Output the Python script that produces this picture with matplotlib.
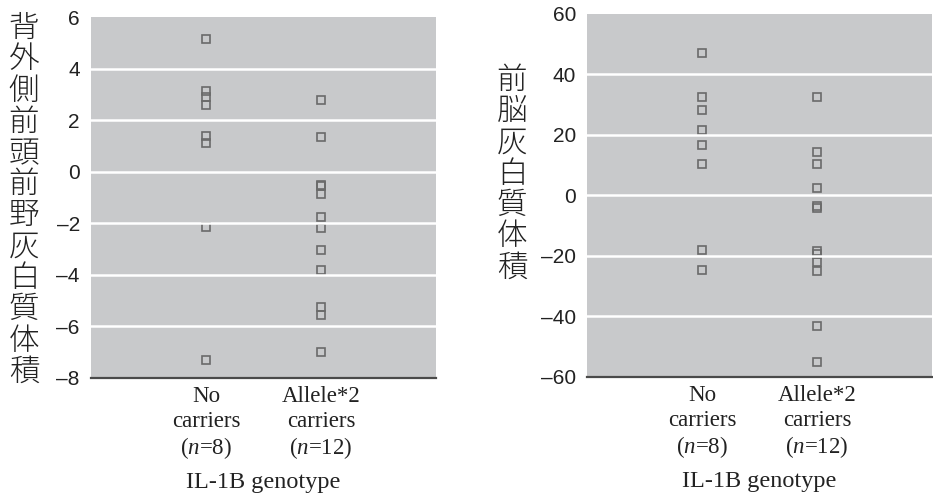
import matplotlib
matplotlib.use("Agg")
import matplotlib.pyplot as plt

# values
groups = ["No\ncarriers\n($n$=8)", "Allele*2\ncarriers\n($n$=12)"]
dlpfc_no = [5.15, 3.15, 2.9, 2.6, 1.4, 1.1, -2.15, -7.3]
dlpfc_allele = [2.8, 1.35, -0.5, -0.55, -0.85, -1.75, -2.2, -3.05, -3.8, -5.25, -5.55, -7.0]
fb_no = [47.2, 32.5, 28.3, 21.5, 16.8, 10.5, -17.9, -24.5]
fb_allele = [32.5, 14.5, 10.5, 2.5, -3.5, -4.0, -18.5, -19.2, -22.0, -25.0, -43.3, -55.2]

left_label = "背外側前頭前野灰白質体積"
right_label = "前脳灰白質体積"
xlabel = "IL-1B genotype"

plt.rcParams["mathtext.fontset"] = "custom"
plt.rcParams["mathtext.it"] = "Liberation Serif:italic"
plt.rcParams["mathtext.rm"] = "Liberation Serif"

bg = "#c8c9cb"
mk = "#6a6a6a"

fig = plt.figure(figsize=(9.33, 4.99), dpi=100)
ax1 = fig.add_axes([0.0975, 0.2425, 0.3698, 0.7234])
ax2 = fig.add_axes([0.6292, 0.2445, 0.3698, 0.7275])


def draw(ax, a, b, ylim, step, label, label_x, label_top):
    ax.set_facecolor(bg)
    ax.plot([1] * len(a), a, "s", ms=5.2, mfc="none", mec=mk, mew=1.2, zorder=2)
    ax.plot([2] * len(b), b, "s", ms=5.2, mfc="none", mec=mk, mew=1.2, zorder=2)
    ax.set_xlim(0, 3)
    ax.set_ylim(*ylim)
    ticks = list(range(ylim[0], ylim[1] + 1, step))
    ax.set_yticks(ticks)
    ax.set_yticklabels([str(t).replace("-", "\u2013") for t in ticks],
                       fontfamily="Liberation Sans", fontsize=15, color="#222222")
    for t in ticks[1:-1]:
        ax.axhline(t, color="white", lw=1.8, zorder=3)
    ax.tick_params(axis="y", length=0, pad=8)
    ax.tick_params(axis="x", length=0, pad=6)
    ax.set_xticks([1, 2])
    ax.set_xticklabels(groups, fontfamily="Liberation Serif", fontsize=16.5,
                       color="#222222", linespacing=1.2)
    for s in ["left", "right", "top"]:
        ax.spines[s].set_visible(False)
    ax.spines["bottom"].set_color("#4a4a4a")
    ax.spines["bottom"].set_linewidth(1.6)
    ax.spines["bottom"].set_zorder(4)
    ax.set_xlabel(xlabel, fontfamily="Liberation Serif", fontsize=17.5,
                  color="#222222", labelpad=8)
    fig.text(label_x, label_top, "\n".join(label),
             ha="center", va="top", fontfamily="Noto Sans CJK JP",
             fontsize=22, color="#222222", linespacing=0.97, fontweight="light")


draw(ax1, dlpfc_no, dlpfc_allele, (-8, 6), 2, left_label, 24 / 933, 1 - 12 / 499)
draw(ax2, fb_no, fb_allele, (-60, 60), 20, right_label, 512 / 933, 1 - 64 / 499)

fig.savefig("out.png", dpi=100)
